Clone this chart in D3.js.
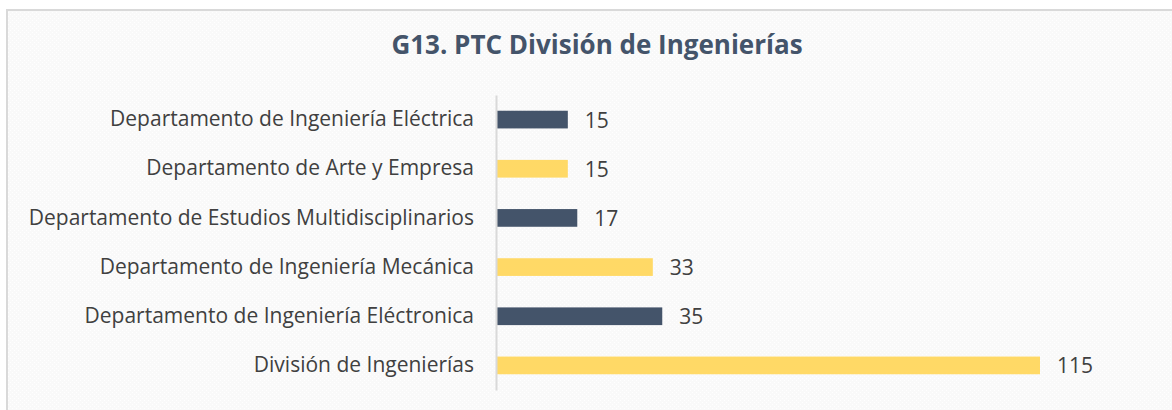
<!DOCTYPE html>
<html><head><meta charset="utf-8">
<script src="https://cdn.jsdelivr.net/npm/d3@7"></script>
<style>html,body{margin:0;padding:0;background:#fff;}svg{display:block;}</style>
</head><body>
<script>
const categories = ["Departamento de Ingeniería Eléctrica","Departamento de Arte y Empresa","Departamento de Estudios Multidisciplinarios","Departamento de Ingeniería Mecánica","Departamento de Ingeniería Eléctronica","División de Ingenierías"];
const values = [15, 15, 17, 33, 35, 115];
const colors = ["#44546a","#ffd966","#44546a","#ffd966","#44546a","#ffd966"];
const title = "G13. PTC División de Ingenierías";

const W = 1172, H = 410;
const svg = d3.select("body").append("svg").attr("width", W).attr("height", H);
const defs = svg.append("defs");
const pat = defs.append("pattern").attr("id","dots").attr("width",4).attr("height",4).attr("patternUnits","userSpaceOnUse");
pat.append("rect").attr("width",4).attr("height",4).attr("fill","#f9f9f9");
pat.append("rect").attr("x",0).attr("y",0).attr("width",1).attr("height",1).attr("fill","#ffffff");
pat.append("rect").attr("x",2).attr("y",2).attr("width",1).attr("height",1).attr("fill","#ffffff");

svg.append("rect").attr("x",7).attr("y",10).attr("width",W+10).attr("height",H+10)
  .attr("fill","url(#dots)").attr("stroke","#d9d9d9").attr("stroke-width",2);

svg.append("text").attr("x",597).attr("y",54).attr("text-anchor","middle")
  .attr("font-family","'Open Sans', sans-serif").attr("font-weight","bold").attr("font-size",26)
  .attr("fill","#44546a").text(title);

const x0 = 497;
const x = d3.scaleLinear().domain([0,115]).range([x0, 1040]);
const y = d3.scaleBand().domain(categories).range([95, 390]).paddingInner(0.64).paddingOuter(0.32);

svg.selectAll("rect.bar").data(values).enter().append("rect").attr("class","bar")
  .attr("x", x(0)).attr("y",(d,i)=>y(categories[i])).attr("width",d=>x(d)-x(0))
  .attr("height", y.bandwidth()).attr("fill",(d,i)=>colors[i]);

const yAxis = d3.axisLeft(y).tickSize(0).tickPadding(22);
const ga = svg.append("g").attr("transform",`translate(${x0-1},0)`).call(yAxis);
ga.select(".domain").attr("stroke","#d9d9d9").attr("stroke-width",2);
ga.selectAll("text").attr("font-family","'Open Sans', sans-serif").attr("font-size",21).attr("fill","#404040");

svg.selectAll("text.val").data(values).enter().append("text").attr("class","val")
  .attr("x",d=>x(d)+17).attr("y",(d,i)=>y(categories[i])+y.bandwidth()/2).attr("dy","0.38em")
  .attr("font-family","'Open Sans', sans-serif").attr("font-size",21).attr("fill","#404040")
  .text(d=>d);
</script>
</body></html>
